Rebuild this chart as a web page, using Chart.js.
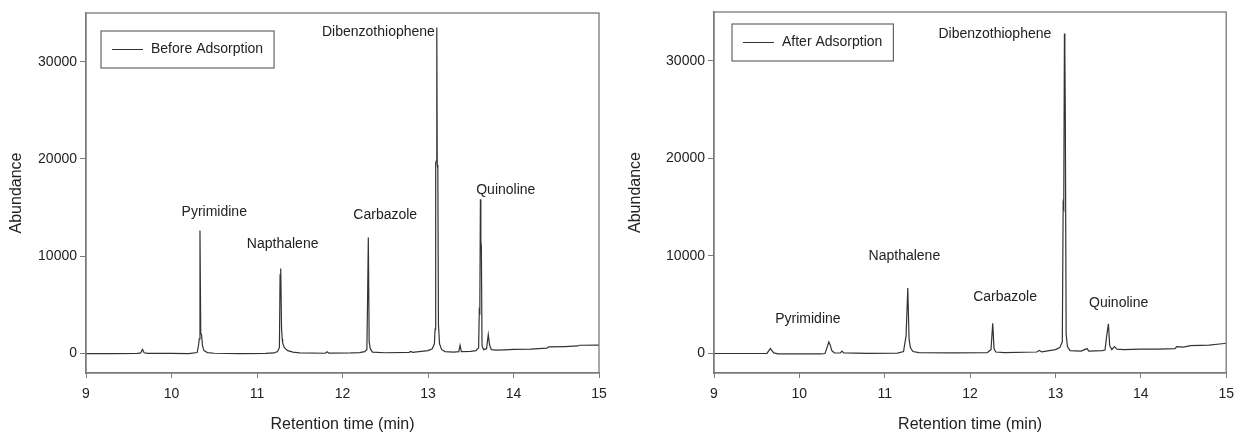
<!DOCTYPE html>
<html>
<head>
<meta charset="utf-8">
<script src="https://cdn.jsdelivr.net/npm/chart.js@4/dist/chart.umd.min.js"></script>
<style>
  body { margin: 0; background: #fff; }
  #wrap { display: flex; width: 1242px; height: 434px; }
  canvas { display: block; }
</style>
</head>
<body>
<div id="wrap">
  <canvas id="before" width="620" height="434"></canvas>
  <canvas id="after" width="622" height="434"></canvas>
</div>
<script>
// retention time (min) / abundance
const beforeTime = [9.0, 9.3, 9.6, 9.64, 9.66, 9.68, 9.72, 10.0, 10.2, 10.30, 10.315, 10.325, 10.333, 10.342, 10.352, 10.362, 10.38, 10.42, 10.5, 10.8,
  11.1, 11.2, 11.24, 11.262, 11.27, 11.275, 11.28, 11.287, 11.295, 11.30, 11.32, 11.36, 11.42, 11.5, 11.8, 11.82, 11.84, 12.1, 12.2, 12.26,
  12.285, 12.292, 12.302, 12.312, 12.325, 12.35, 12.5, 12.78, 12.8, 12.82, 13.0, 13.05, 13.075, 13.083, 13.09, 13.098, 13.103, 13.108, 13.115, 13.122,
  13.135, 13.16, 13.2, 13.3, 13.36, 13.375, 13.39, 13.5, 13.56, 13.592, 13.60, 13.606, 13.613, 13.618, 13.624, 13.632, 13.65, 13.685, 13.705, 13.72,
  13.74, 13.8, 13.9, 14.0, 14.2, 14.39, 14.41, 14.6, 14.75, 14.77, 15.0];
const beforeAbund = [0, 0, 20, 60, 420, 80, 20, 10, 0, 100, 800, 1500, 12650, 2100, 1900, 800, 300, 100, 30, 0,
  20, 60, 200, 600, 8000, 7900, 8740, 2600, 1500, 1100, 600, 300, 150, 60, 30, 180, 40, 60, 100, 200,
  400, 4600, 11920, 1200, 500, 150, 80, 120, 220, 120, 300, 500, 1000, 2500, 19600, 19800, 33500, 19400, 19000, 3000,
  1000, 400, 200, 150, 200, 850, 200, 230, 300, 600, 4450, 4300, 15860, 11600, 11000, 800, 400, 500, 1950, 900,
  400, 350, 380, 420, 450, 550, 680, 720, 780, 850, 860];

const afterTime = [9.0, 9.4, 9.62, 9.66, 9.70, 9.75, 10.0, 10.25, 10.30, 10.32, 10.345, 10.36, 10.38, 10.41, 10.48, 10.50, 10.52, 10.8,
  11.15, 11.22, 11.25, 11.27, 11.285, 11.30, 11.33, 11.4, 11.8, 12.2, 12.245, 12.265, 12.28, 12.30, 12.4, 12.78, 12.81, 12.84,
  13.0, 13.05, 13.08, 13.09, 13.097, 13.105, 13.11, 13.115, 13.125, 13.14, 13.17, 13.3, 13.37, 13.39, 13.55, 13.58, 13.60, 13.62, 13.635,
  13.66, 13.69, 13.72, 13.8, 14.0, 14.2, 14.4, 14.42, 14.5, 14.58, 14.8, 14.95, 15.0];
const afterAbund = [0, 0, 20, 500, 60, -40, -50, -40, 0, 500, 1180, 900, 300, 50, 60, 250, 60, 20,
  40, 200, 1800, 6700, 1500, 600, 200, 80, 60, 80, 400, 3100, 500, 150, 80, 150, 320, 160,
  400, 600, 1200, 15300, 15000, 32800, 30700, 24800, 2000, 700, 300, 250, 500, 250, 300, 350, 1800, 3050, 800,
  400, 700, 450, 400, 450, 450, 500, 700, 650, 800, 850, 1000, 1050];

const peakNames = ['Pyrimidine', 'Napthalene', 'Carbazole', 'Dibenzothiophene', 'Quinoline'];
const beforeLabelTime = [10.50, 11.30, 12.50, 12.42, 13.91];
const beforeLabelAbund = [14520, 11230, 14210, 33020, 16810];
const afterLabelTime = [10.10, 11.23, 12.41, 12.29, 13.74];
const afterLabelAbund = [3560, 10000, 5800, 32720, 5190];

const xTicks = [9, 10, 11, 12, 13, 14, 15];
const yTicks = [0, 10000, 20000, 30000];

const FONT = "'Liberation Sans', Arial, sans-serif";
const TEXT = '#222';
const AXIS = '#7a7a7a';

// frame box, peak names and the boxed legend inside the plot
const framePlugin = {
  id: 'frame',
  afterDatasetsDraw(chart, args, opts) {
    const {ctx, chartArea: a, scales} = chart;
    ctx.save();
    ctx.strokeStyle = AXIS;
    ctx.lineWidth = 1.3;
    ctx.strokeRect(a.left, a.top, a.right - a.left, a.bottom - a.top);

    ctx.fillStyle = TEXT;
    ctx.font = '14px ' + FONT;
    ctx.textAlign = 'center';
    ctx.textBaseline = 'middle';
    opts.names.forEach((n, i) => {
      ctx.fillText(n, scales.x.getPixelForValue(opts.lx[i]), scales.y.getPixelForValue(opts.ly[i]));
    });

    const bx = a.left + opts.boxLeft, by = a.top + opts.boxTop;
    const tw = ctx.measureText(opts.legend).width;
    const bw = 50 + tw + 11, bh = 37;
    ctx.strokeStyle = '#666';
    ctx.lineWidth = 1.2;
    ctx.strokeRect(bx, by, bw, bh);
    ctx.strokeStyle = '#333';
    ctx.lineWidth = 1;
    ctx.beginPath();
    ctx.moveTo(bx + 11, by + bh / 2);
    ctx.lineTo(bx + 42, by + bh / 2);
    ctx.stroke();
    ctx.textAlign = 'left';
    ctx.fillText(opts.legend, bx + 50, by + bh / 2);
    ctx.restore();
  }
};

function makeChart(id, times, abund, legend, lx, ly, yWidth, pad, boxLeft, boxTop, titlePad) {
  return new Chart(document.getElementById(id), {
    type: 'scatter',
    data: {
      datasets: [{
        label: legend,
        data: times.map((t, i) => ({x: t, y: abund[i]})),
        showLine: true,
        borderColor: '#333',
        borderWidth: 1.2,
        pointRadius: 0,
        tension: 0
      }]
    },
    options: {
      responsive: false,
      animation: false,
      layout: {padding: pad},
      plugins: {
        legend: {display: false},
        tooltip: {enabled: false},
        frame: {names: peakNames, lx: lx, ly: ly, legend: legend, boxLeft: boxLeft, boxTop: boxTop}
      },
      scales: {
        x: {
          type: 'linear',
          min: 9,
          max: 15,
          afterBuildTicks: s => { s.ticks = xTicks.map(v => ({value: v})); },
          afterFit: s => { s.height = 61; },
          grid: {drawOnChartArea: false, tickLength: 5, color: AXIS},
          border: {color: AXIS, width: 1.3},
          ticks: {color: TEXT, padding: 8, font: {family: FONT, size: 14}, callback: v => String(v)},
          title: {display: true, text: 'Retention time (min)', color: TEXT, padding: {top: 0, bottom: 0}, font: {family: FONT, size: 16}}
        },
        y: {
          min: -2000,
          max: 35000,
          afterBuildTicks: s => { s.ticks = yTicks.map(v => ({value: v})); },
          afterFit: s => { s.width = yWidth; },
          grid: {drawOnChartArea: false, tickLength: 6, color: AXIS},
          border: {color: AXIS, width: 1.3},
          ticks: {color: TEXT, padding: 3, font: {family: FONT, size: 14}, callback: v => String(v)},
          title: {display: true, text: 'Abundance', color: TEXT, padding: {top: titlePad, bottom: 0}, font: {family: FONT, size: 16}}
        }
      }
    },
    plugins: [framePlugin]
  });
}

makeChart('before', beforeTime, beforeAbund, 'Before Adsorption', beforeLabelTime, beforeLabelAbund,
  86, {top: 13, right: 21, left: 0, bottom: 0}, 15, 18, 7.4);
makeChart('after', afterTime, afterAbund, 'After Adsorption', afterLabelTime, afterLabelAbund,
  94, {top: 12, right: 10, left: 0, bottom: 0}, 18, 12, 6.4);
</script>
</body>
</html>
